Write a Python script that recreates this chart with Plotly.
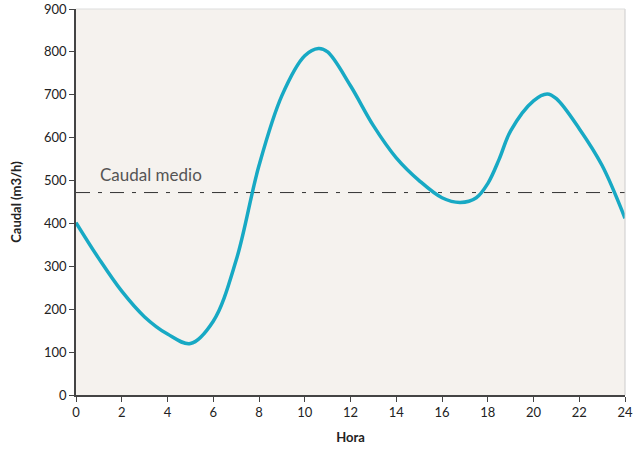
import plotly.graph_objects as go

hora = [0, 1, 2, 3, 4, 5, 6, 7, 8, 9, 10, 10.6, 11, 12, 13, 14, 15, 16, 16.8, 17.5, 18, 18.5, 19, 20, 20.6, 21, 22, 23, 24]
caudal = [402, 318, 242, 182, 142, 120, 172, 314, 535, 698, 791, 808, 800, 721, 628, 553, 500, 460, 449, 460, 493, 550, 616, 686, 702, 691, 621, 535, 412]
caudal_medio = 472
x_ticks = list(range(0, 25, 2))
y_ticks = list(range(0, 901, 100))

fig = go.Figure()
fig.add_trace(go.Scatter(x=[0, 24], y=[caudal_medio, caudal_medio], mode="lines",
                         line=dict(color="#333333", width=1, dash="14px,8px,4px,8px"),
                         hoverinfo="skip", showlegend=False))
fig.add_trace(go.Scatter(x=hora, y=caudal, mode="lines",
                         line=dict(color="#17A9C4", width=3.5, shape="spline", smoothing=1.0),
                         showlegend=False))
fig.add_annotation(x=0.95, y=caudal_medio + 12, text="Caudal medio", showarrow=False,
                   xanchor="left", yanchor="bottom",
                   font=dict(family="Lato, sans-serif", size=17, color="#555555"))

fig.update_layout(
    width=637, height=449,
    margin=dict(l=76, r=12, t=9, b=54),
    paper_bgcolor="white", plot_bgcolor="#F5F2EE",
    font=dict(family="Lato, sans-serif", size=13, color="#222222"),
    xaxis=dict(range=[0, 24], tickvals=x_ticks, showgrid=False, zeroline=False,
               showline=True, linecolor="#444444", linewidth=1.5, mirror=False,
               ticks="outside", ticklen=5, tickcolor="#444444", automargin=False,
               title=dict(text="<b>Hora</b>", standoff=14, font=dict(size=13))),
    yaxis=dict(range=[0, 900], tickvals=y_ticks, showgrid=False, zeroline=False,
               showline=True, linecolor="#444444", linewidth=1.5, automargin=False,
               ticks="outside", ticklen=5, tickcolor="#444444",
               title=dict(text="<b>Caudal (m3/h)</b>", standoff=19, font=dict(size=13))),
)
fig.add_shape(type="line", xref="paper", yref="paper", x0=1, x1=1, y0=0, y1=1,
              line=dict(color="#CCCCCC", width=1))
fig.add_shape(type="line", xref="paper", yref="paper", x0=0, x1=1, y0=1, y1=1,
              line=dict(color="#DDDDDD", width=1))
fig.write_html("out.html", config={"displayModeBar": False},
               post_script="document.body.style.margin='0';document.body.style.overflow='hidden';")
